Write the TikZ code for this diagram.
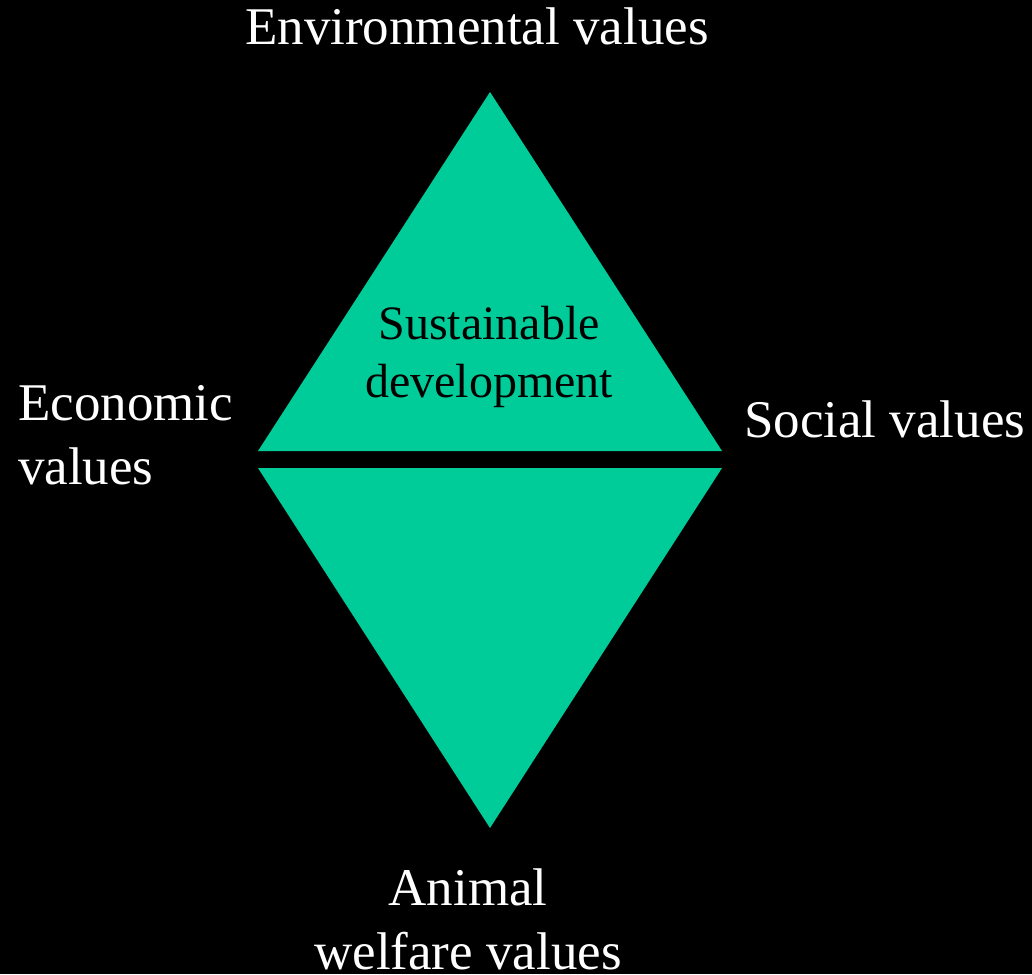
\documentclass[tikz,border=0pt]{standalone}
\usepackage{fontspec}
\setmainfont{Liberation Serif}
\usetikzlibrary{positioning}
\definecolor{sdgreen}{HTML}{00CC99}

\begin{document}
\begin{tikzpicture}[x=1pt,y=-1pt,
  value label/.style={text=white,inner sep=0pt,font=\fontsize{53}{64}\selectfont},
  tri part/.style={fill=sdgreen,draw=none}]

  \fill[black] (0,0) rectangle (1032,974);
  \useasboundingbox (0,0) rectangle (1032,974);

  \coordinate (top) at (490,92);
  \coordinate (ul) at (258,451);
  \coordinate (ur) at (722,451);
  \coordinate (ll) at (258,468);
  \coordinate (lr) at (722,468);
  \coordinate (bot) at (490,828);

  \fill[tri part] (top) -- (ur) -- (ul) -- cycle;
  \fill[tri part] (ll) -- (lr) -- (bot) -- cycle;

  \node[value label,anchor=base] (env) at (477,45) {Environmental values};
  \node[value label,anchor=base west] (soc) at (744,437) {Social values};
  \node[value label,anchor=north west,align=left] (eco) at (18,385) {Economic\\values};
  \node[value label,anchor=north,align=center] (ani) at (468,869) {Animal\\welfare values};
  \node[inner sep=0pt,anchor=north,align=center,text=black,
        font=\fontsize{48}{58}\selectfont] (sus) at (489,306) {Sustainable\\development};

\end{tikzpicture}
\end{document}
